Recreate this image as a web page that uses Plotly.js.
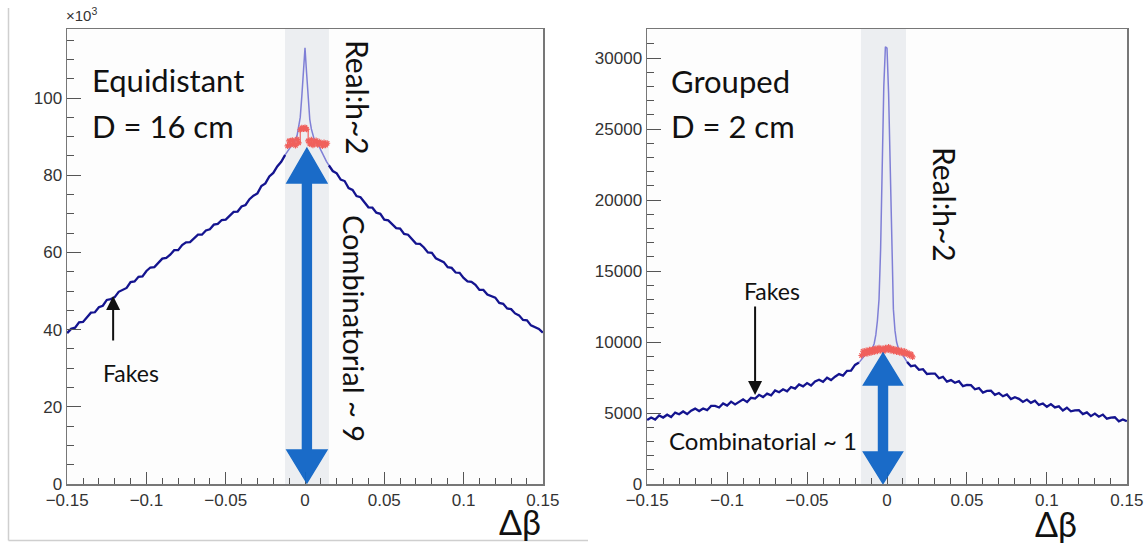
<!DOCTYPE html>
<html>
<head>
<meta charset="utf-8">
<script src="https://cdn.plot.ly/plotly-3.0.1.min.js"></script>
<style>html,body{margin:0;padding:0;background:#fff;}#chart{width:1148px;height:543px;}</style>
</head>
<body>
<div id="chart"></div>
<script>
// ---------------- DATA ----------------
// Bin width of the outer parts of each histogram (Δβ)
const binW = 0.0025;

// Left panel: "Equidistant, D = 16 cm" (counts in units of 10^3)
const eqOuterLeftStart = -0.15;
const eqOuterLeft = [39.1, 40.2, 40.5, 41.9, 42.0, 43.3, 44.4, 44.5, 45.8, 46.2, 47.7, 47.9, 48.4, 49.8, 50.4, 50.8, 52.3, 52.5, 53.7, 53.8,
  55.2, 56.1, 56.2, 57.4, 58.4, 58.6, 59.4, 60.6, 60.6, 61.9, 62.6, 62.7, 63.7, 64.6, 64.6, 65.7, 66.0, 67.2, 67.4, 68.4,
  68.5, 69.5, 70.5, 70.6, 71.9, 72.3, 73.8, 74.7, 75.3, 77.2, 77.9, 79.7, 80.6, 82.3, 83.5, 85.3];
const eqOuterRightStart = 0.015;
const eqOuterRight = [82.6, 81.1, 80.5, 78.9, 78.5, 76.7, 76.2, 74.6, 74.3, 73.1, 71.7, 71.6, 70.3, 70.0, 68.5, 68.3, 67.4, 66.3, 66.2, 64.8,
  64.6, 63.4, 62.3, 62.2, 61.3, 60.0, 59.9, 58.5, 58.1, 57.5, 56.2, 56.0, 54.8, 54.7, 53.4, 52.5, 52.4, 51.6, 50.3, 50.3,
  49.1, 48.7, 48.3, 46.9, 46.7, 45.5, 45.3, 44.2, 43.7, 42.5, 42.4, 41.1, 40.7, 40.2, 39.2];
const eqPeakX = [-0.0125, -0.011, -0.01, -0.009, -0.008, -0.007, -0.006, -0.005, -0.004, -0.003, -0.002, -0.001, 0,
  0.001, 0.002, 0.003, 0.004, 0.005, 0.006, 0.007, 0.008, 0.009, 0.01, 0.011, 0.012, 0.0135, 0.015];
const eqPeakY = [85.3, 86.2, 86.9, 87.4, 88.0, 88.5, 89.2, 90.3, 92.3, 95.0, 100.5, 107.5, 113.0,
  106.5, 99.5, 94.5, 92.0, 90.2, 89.0, 88.6, 88.1, 87.4, 86.5, 85.6, 84.6, 83.6, 82.6];
// red (combinatorial) markers in the signal window
const eqRedStart = -0.011, redStep = 0.001;
const eqRed = [87.6, 88.9, 87.9, 89.1, 88.2, 87.7, 89.3, 88.4, 91.8, 92.3, 92.0, 92.4, 91.9, 88.9, 88.1, 89.2, 87.8, 88.6, 89.0, 87.9,
  88.7, 88.2, 87.6, 88.5, 87.8, 88.3];

// Right panel: "Grouped, D = 2 cm" (counts)
const grOuterLeftStart = -0.15;
const grOuterLeft = [4500, 4680, 4540, 4830, 4680, 4880, 4720, 5030, 4910, 5110, 4930, 5170, 5310, 5140, 5320, 5200, 5500, 5500, 5390, 5680,
  5530, 5800, 5610, 5810, 5960, 5770, 6070, 6020, 6280, 6120, 6360, 6240, 6590, 6460, 6670, 6530, 6830, 6720, 7010, 6880,
  7110, 6940, 7220, 7340, 7200, 7490, 7320, 7560, 7740, 7640, 7970, 7990, 8390, 8550];
const grOuterRightStart = 0.0125;
const grOuterRight = [8600, 8300, 8350, 8040, 8090, 7750, 7780, 7780, 7450, 7550, 7210, 7320, 7130, 7240, 6890, 6980, 6960, 6670, 6760, 6440,
  6560, 6570, 6280, 6410, 6180, 6310, 5980, 6110, 6000, 5780, 5950, 5720, 5870, 5570, 5670, 5440, 5630, 5390, 5470, 5180,
  5370, 5120, 5190, 5200, 4920, 5040, 4780, 4960, 4740, 4890, 4600, 4680, 4700, 4420, 4550, 4420];
const grPeakX = [-0.0175, -0.016, -0.015, -0.014, -0.013, -0.012, -0.011, -0.01, -0.009, -0.008, -0.007, -0.006, -0.005, -0.004, -0.003,
  -0.002, -0.001, 0, 0.001, 0.002, 0.003, 0.004, 0.005, 0.006, 0.007, 0.008, 0.009, 0.01, 0.011, 0.0125];
const grPeakY = [8550, 8800, 8950, 9050, 9150, 9250, 9350, 9450, 9600, 9900, 10500, 11500, 13000, 16500, 22800,
  28000, 30800, 30700, 27500, 22000, 15500, 12300, 10800, 10000, 9600, 9400, 9250, 9100, 8900, 8600];
const grRedStart = -0.016;
const grRed = [9050, 9350, 9150, 9400, 9200, 9450, 9250, 9500, 9300, 9550, 9350, 9600, 9400, 9550, 9350, 9600, 9450, 9650, 9400, 9550,
  9350, 9500, 9300, 9450, 9250, 9400, 9200, 9350, 9150, 9250, 9050, 9150, 8950];

// Texts
const eqTitle = ['Equidistant', 'D = 16 cm'];
const grTitle = ['Grouped', 'D = 2 cm'];
const realLabel = 'Real:h~2';
const eqCombLabel = 'Combinatorial ~ 9';
const grCombLabel = 'Combinatorial ~ 1';
const fakesLabel = 'Fakes';
const xTitle = 'Δβ';

// ---------------- STYLE / LAYOUT ----------------
const W = 1148, H = 543;
const PX = x => x / W, PY = y => 1 - y / H;
const NAVY = '#14148f', PURPLE = '#7f7fd6', RED = '#f0605c', BLUE = '#0f65c6';
const TEXTFONT = 'Lato, "Open Sans", sans-serif';

function outer(start, ys, xa, ya) {
  return {type: 'scatter', mode: 'lines', x0: start, dx: binW, y: ys, xaxis: xa, yaxis: ya,
    line: {color: NAVY, width: 2.3}, hoverinfo: 'skip'};
}
function peak(xs, ys, xa, ya) {
  return {type: 'scatter', mode: 'lines', x: xs, y: ys, xaxis: xa, yaxis: ya,
    line: {color: PURPLE, width: 1.5}, hoverinfo: 'skip'};
}
function red(start, ys, xa, ya) {
  return {type: 'scatter', mode: 'lines+markers', x0: start, dx: redStep, y: ys, xaxis: xa, yaxis: ya,
    line: {color: RED, width: 1.2, shape: 'hv'},
    marker: {symbol: 'asterisk-open', size: 5, color: RED, line: {color: RED, width: 1.2}}, hoverinfo: 'skip'};
}

const traces = [
  outer(eqOuterLeftStart, eqOuterLeft, 'x', 'y'),
  outer(eqOuterRightStart, eqOuterRight, 'x', 'y'),
  peak(eqPeakX, eqPeakY, 'x', 'y'),
  red(eqRedStart, eqRed, 'x', 'y'),
  outer(grOuterLeftStart, grOuterLeft, 'x2', 'y2'),
  outer(grOuterRightStart, grOuterRight, 'x2', 'y2'),
  peak(grPeakX, grPeakY, 'x2', 'y2'),
  red(grRedStart, grRed, 'x2', 'y2')
];

const tickfont = {family: '"Liberation Sans", Arial, sans-serif', size: 17, color: '#333'};
function xAxis(domain, anchor) {
  return {domain, anchor, range: [-0.1501, 0.1501], dtick: 0.05, tick0: 0, ticks: 'inside', ticklen: 12, tickwidth: 1,
    tickcolor: '#555', minor: {ticks: 'inside', ticklen: 6, dtick: 0.01, tick0: 0, tickcolor: '#555', tickwidth: 1},
    showline: true, linecolor: '#777', linewidth: 1.5, mirror: true, showgrid: false, zeroline: false, tickfont};
}
function yAxis(domain, anchor, range, dtick, minor) {
  return {domain, anchor, range, dtick, tick0: 0, tickformat: 'd', ticks: 'inside', ticklen: 14, tickwidth: 1, tickcolor: '#555',
    minor: {ticks: 'inside', ticklen: 7, dtick: minor, tick0: 0, tickcolor: '#555', tickwidth: 1},
    showline: true, linecolor: '#777', linewidth: 1.5, mirror: true, showgrid: false, zeroline: false, tickfont};
}

// Overlay geometry (bands and double arrows)
const bands = [
  {xref: 'x', yref: 'y domain', x0: -0.0126, x1: 0.0151},
  {xref: 'x2', yref: 'y2 domain', x0: -0.0163, x1: 0.0119}
];
const arrows = [
  {xref: 'x', yref: 'y', cx: 0.0012, yT: 87, yHT: 78, yHB: 8.8, yB: 0.3, hw: 0.0126, sw: 0.0028},
  {xref: 'x2', yref: 'y2', cx: -0.0025, yT: 9220, yHT: 6970, yHB: 2250, yB: 40, hw: 0.0122, sw: 0.0028}
];
function arrowPath(a) {
  const p = [[a.cx, a.yT], [a.cx + a.hw, a.yHT], [a.cx + a.sw, a.yHT], [a.cx + a.sw, a.yHB], [a.cx + a.hw, a.yHB],
    [a.cx, a.yB], [a.cx - a.hw, a.yHB], [a.cx - a.sw, a.yHB], [a.cx - a.sw, a.yHT], [a.cx - a.hw, a.yHT]];
  return 'M' + p.map(q => q[0] + ',' + q[1]).join(' L') + ' Z';
}

const shapes = [];
bands.forEach(b => shapes.push({type: 'rect', xref: b.xref, yref: b.yref, x0: b.x0, x1: b.x1, y0: 0, y1: 1,
  fillcolor: '#eceef1', line: {width: 0}, layer: 'below'}));
arrows.forEach(a => shapes.push({type: 'path', xref: a.xref, yref: a.yref, path: arrowPath(a),
  fillcolor: BLUE, line: {color: BLUE, width: 1.5}, opacity: 0.95, layer: 'above'}));
// slide frame lines
shapes.push({type: 'line', xref: 'paper', yref: 'paper', x0: PX(8.5), x1: PX(8.5), y0: PY(8), y1: PY(540.5), line: {color: '#cfcfcf', width: 1.5}});
shapes.push({type: 'line', xref: 'paper', yref: 'paper', x0: PX(8.5), x1: PX(588), y0: PY(540.5), y1: PY(540.5), line: {color: '#cfcfcf', width: 1.5}});

function txt(text, x, y, size, opts) {
  return Object.assign({xref: 'paper', yref: 'paper', x: PX(x), y: PY(y), text, showarrow: false,
    xanchor: 'left', yanchor: 'middle', font: {family: TEXTFONT, size, color: '#111'}}, opts || {});
}

const annotations = [
  txt(eqTitle[0], 90, 80, 31),
  txt(eqTitle[1], 90, 126, 31),
  txt(grTitle[0], 669, 81, 31),
  txt(grTitle[1], 669, 126, 31),
  txt(realLabel, 358, 97, 30, {xanchor: 'center', textangle: 90}),
  txt(realLabel, 945, 204, 30, {xanchor: 'center', textangle: 90}),
  txt(eqCombLabel, 355, 328, 29, {xanchor: 'center', textangle: 90}),
  txt(grCombLabel, 763, 440, 24, {xanchor: 'center'}),
  txt(fakesLabel, 131, 373, 23, {xanchor: 'center'}),
  txt(fakesLabel, 772, 291, 23, {xanchor: 'center'}),
  txt(xTitle, 520, 521, 34, {xanchor: 'center'}),
  txt(xTitle, 1056, 523, 34, {xanchor: 'center'}),
  {xref: 'paper', yref: 'paper', x: PX(64), y: PY(14), text: '×10<sup>3</sup>', showarrow: false, xanchor: 'left', yanchor: 'middle',
    font: {family: '"Liberation Sans", Arial, sans-serif', size: 15, color: '#333'}},
  // "Fakes" pointer arrows
  {xref: 'x', yref: 'y', x: -0.121, y: 48.7, ax: 0, ay: 46, text: '', showarrow: true, arrowhead: 2, arrowsize: 1.4, arrowwidth: 2, arrowcolor: '#111'},
  {xref: 'x2', yref: 'y2', x: -0.0825, y: 6270, ax: 0, ay: -90, text: '', showarrow: true, arrowhead: 2, arrowsize: 1.4, arrowwidth: 2, arrowcolor: '#111'}
];

const layout = {
  width: W, height: H, margin: {l: 0, r: 0, t: 0, b: 0}, paper_bgcolor: '#ffffff', plot_bgcolor: '#fdfdfd',
  showlegend: false,
  xaxis: xAxis([PX(67), PX(543)], 'y'),
  yaxis: yAxis([PY(484), PY(29)], 'x', [0, 117.9], 20, 5),
  xaxis2: xAxis([PX(647), PX(1127)], 'y2'),
  yaxis2: yAxis([PY(484), PY(29)], 'x2', [0, 32050], 5000, 1000),
  shapes, annotations
};

Plotly.newPlot('chart', traces, layout, {staticPlot: true, displayModeBar: false});
</script>
</body>
</html>
